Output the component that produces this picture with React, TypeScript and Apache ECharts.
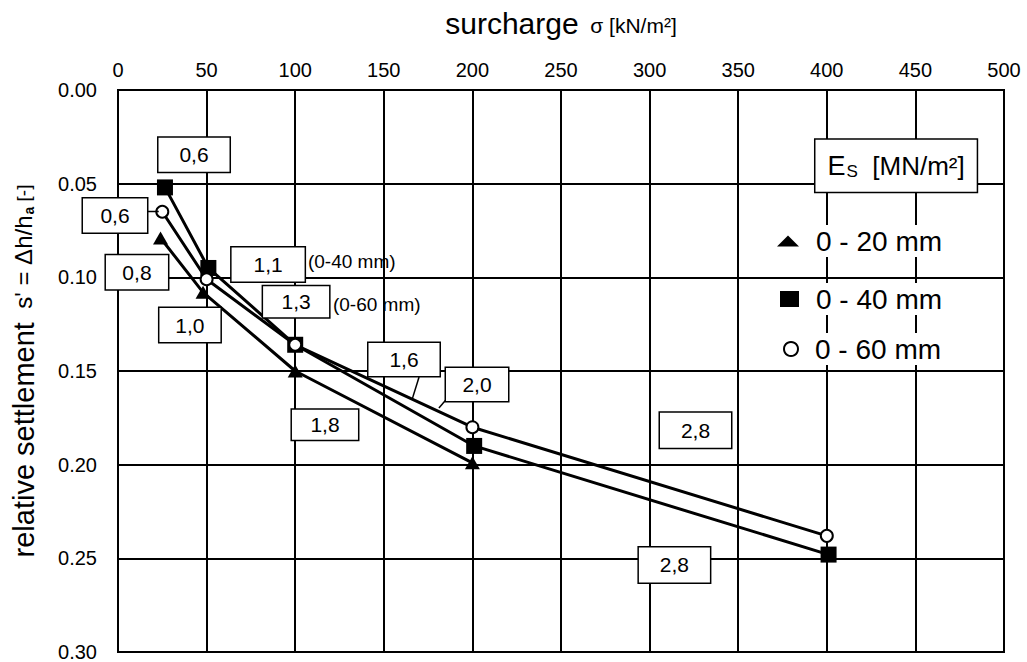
import React, { useEffect, useRef } from "react";
import * as echarts from "echarts";

const FONT = "'Liberation Sans', Arial, sans-serif";

// ---- data ----
const surcharge20 = [24, 48, 100, 200];
const settlement20 = [0.079, 0.108, 0.15, 0.199];

const surcharge40 = [26.5, 51, 100, 201, 401];
const settlement40 = [0.052, 0.095, 0.136, 0.19, 0.248];

const surcharge60 = [25, 50, 100, 200, 400];
const settlement60 = [0.065, 0.101, 0.136, 0.18, 0.238];

const seriesNames = ["0 - 20 mm", "0 - 40 mm", "0 - 60 mm"];

// Es value annotations (text + anchor in data units)
const annText = ["0,6", "0,6", "0,8", "1,0", "1,1", "1,3", "1,6", "2,0", "1,8", "2,8", "2,8"];
const annX = [42.9, -1.7, 10.7, 40.6, 84.7, 100.5, 161.4, 202.6, 116.8, 325.9, 314.0];
const annY = [0.0346, 0.067, 0.0973, 0.1255, 0.0931, 0.113, 0.1439, 0.1572, 0.1787, 0.1816, 0.2535];

const noteText = ["(0-40 mm)", "(0-60 mm)"];
const noteX = [107.2, 121.3];
const noteY = [0.0915, 0.1144];

// leader lines
const leaderA = [[16.4, 0.0649], [23, 0.0649]];
const leaderB = [[169.9, 0.1532], [165.9, 0.1654]];
const leaderC = [[185.1, 0.1654], [181.1, 0.1697]];

const legendTitleX = 439.1;
const legendTitleY = 0.0404;

// ---- styles ----
const boxW = [71, 64, 62, 61, 73, 66, 71, 62, 66, 71, 71];
const boxH = [34, 34, 34, 34, 34, 31, 33, 33, 30, 35, 35];

const zip = (xs: number[], ys: number[]) => xs.map((x, i) => [x, ys[i]]);

function buildOption(): any {
  const legendCommon = {
    orient: "vertical",
    padding: 0,
    itemGap: 0,
    symbolKeepAspect: false,
    selectedMode: false,
    formatter: "{g| }{t|{name}}",
    textStyle: {
      fontFamily: FONT,
      color: "#000",
      rich: {
        g: { width: 9, fontSize: 10 },
        t: {
          fontSize: 28,
          fontFamily: FONT,
          color: "#000",
          backgroundColor: "#fff",
          padding: [2, 3],
          lineHeight: 30,
        },
      },
    },
  };

  const leader = (d: number[][]) => ({
    type: "line",
    data: d,
    symbol: "none",
    silent: true,
    z: 8,
    lineStyle: { color: "#000", width: 1.5 },
  });

  const labelSeriesBase = {
    type: "scatter",
    silent: true,
    clip: false,
    symbolSize: 0,
    z: 10,
    itemStyle: { color: "#000", opacity: 1 },
  };

  return {
    animation: false,
    backgroundColor: "#fff",
    grid: {
      left: 118,
      right: 23,
      top: 90,
      bottom: 8,
      show: true,
      borderColor: "#000",
      borderWidth: 2,
    },
    xAxis: {
      type: "value",
      position: "top",
      min: 0,
      max: 500,
      interval: 50,
      axisLine: { show: false },
      axisTick: { show: false },
      splitLine: { show: true, lineStyle: { color: "#000", width: 2 } },
      axisLabel: { color: "#000", fontSize: 20, fontFamily: FONT, margin: 10 },
      name: "{a|surcharge}{b|  σ [kN/m²]}",
      nameLocation: "middle",
      nameGap: 52,
      nameTextStyle: {
        color: "#000",
        fontFamily: FONT,
        rich: {
          a: { fontSize: 30, fontFamily: FONT, color: "#000" },
          b: { fontSize: 21, fontFamily: FONT, color: "#000", padding: [4, 0, 0, 0] },
        },
      },
    },
    yAxis: {
      type: "value",
      inverse: true,
      min: 0,
      max: 0.3,
      interval: 0.05,
      axisLine: { show: false },
      axisTick: { show: false },
      splitLine: { show: true, lineStyle: { color: "#000", width: 2 } },
      axisLabel: {
        color: "#000",
        fontSize: 20,
        fontFamily: FONT,
        margin: 21,
        formatter: (v: number) => v.toFixed(2),
      },
      name: "{a|relative settlement}{b|  s' = Δh/h}{c|a}{d| [-]}",
      nameLocation: "middle",
      nameGap: 80,
      nameTextStyle: {
        color: "#000",
        fontFamily: FONT,
        rich: {
          a: { fontSize: 29, fontFamily: FONT, color: "#000" },
          b: { fontSize: 24, fontFamily: FONT, color: "#000" },
          c: { fontSize: 14, fontWeight: "bold", fontFamily: FONT, color: "#000", padding: [11, 0, 0, 1] },
          d: { fontSize: 19, fontFamily: FONT, color: "#000" },
        },
      },
    },
    legend: [
      { ...legendCommon, left: 777, top: 225, itemWidth: 22, itemHeight: 11, data: [{ name: seriesNames[0], icon: "triangle" }] },
      { ...legendCommon, left: 780, top: 283, itemWidth: 19, itemHeight: 16, data: [{ name: seriesNames[1], icon: "rect" }] },
      { ...legendCommon, left: 783, top: 333, itemWidth: 14, itemHeight: 14, data: [{ name: seriesNames[2], icon: "circle" }] },
    ],
    series: [
      leader(leaderA),
      leader(leaderB),
      leader(leaderC),
      {
        name: seriesNames[0],
        type: "line",
        data: zip(surcharge20, settlement20),
        symbol: "triangle",
        symbolSize: [15, 13],
        z: 3,
        lineStyle: { color: "#000", width: 3 },
        itemStyle: { color: "#000" },
      },
      {
        name: seriesNames[1],
        type: "line",
        data: zip(surcharge40, settlement40),
        symbol: "rect",
        symbolSize: 16,
        z: 4,
        lineStyle: { color: "#000", width: 3 },
        itemStyle: { color: "#000" },
      },
      {
        name: seriesNames[2],
        type: "line",
        data: zip(surcharge60, settlement60),
        symbol: "circle",
        symbolSize: 12,
        z: 5,
        lineStyle: { color: "#000", width: 3 },
        itemStyle: { color: "#fff", borderColor: "#000", borderWidth: 2 },
      },
      {
        ...labelSeriesBase,
        data: annText.map((t, i) => ({
          value: [annX[i], annY[i]],
          label: { formatter: t, width: boxW[i], height: boxH[i], lineHeight: boxH[i] },
        })),
        label: {
          show: true,
          position: "inside",
          align: "center",
          verticalAlign: "middle",
          fontSize: 21,
          fontFamily: FONT,
          color: "#000",
          textBorderWidth: 0,
          backgroundColor: "#fff",
          borderColor: "#000",
          borderWidth: 1.5,
          padding: 0,
        },
      },
      {
        ...labelSeriesBase,
        data: noteText.map((t, i) => ({ value: [noteX[i], noteY[i]], label: { formatter: t } })),
        label: {
          show: true,
          position: "right",
          distance: 0,
          fontSize: 19,
          fontFamily: FONT,
          color: "#000",
          textBorderWidth: 0,
        },
      },
      {
        ...labelSeriesBase,
        data: [{ value: [legendTitleX, legendTitleY] }],
        label: {
          show: true,
          position: "inside",
          formatter: "{e|E}{s|S}{u|  [MN/m²]}",
          backgroundColor: "#fff",
          borderColor: "#000",
          borderWidth: 1.5,
          textBorderWidth: 0,
          padding: [11, 12, 11, 12],
          rich: {
            e: { fontSize: 27, fontFamily: FONT, color: "#000", lineHeight: 30 },
            s: { fontSize: 17, fontFamily: FONT, color: "#000", padding: [12, 0, 0, 1] },
            u: { fontSize: 26, fontFamily: FONT, color: "#000", lineHeight: 30 },
          },
        },
      },
    ],
  };
}

export default function App() {
  const ref = useRef<HTMLDivElement>(null);
  useEffect(() => {
    if (!ref.current) return;
    const chart = echarts.init(ref.current, null, { renderer: "svg" });
    chart.setOption(buildOption());
    return () => chart.dispose();
  }, []);
  return (
    <div
      ref={ref}
      style={{ position: "absolute", left: 0, top: 0, width: 1027, height: 662, background: "#fff" }}
    />
  );
}
